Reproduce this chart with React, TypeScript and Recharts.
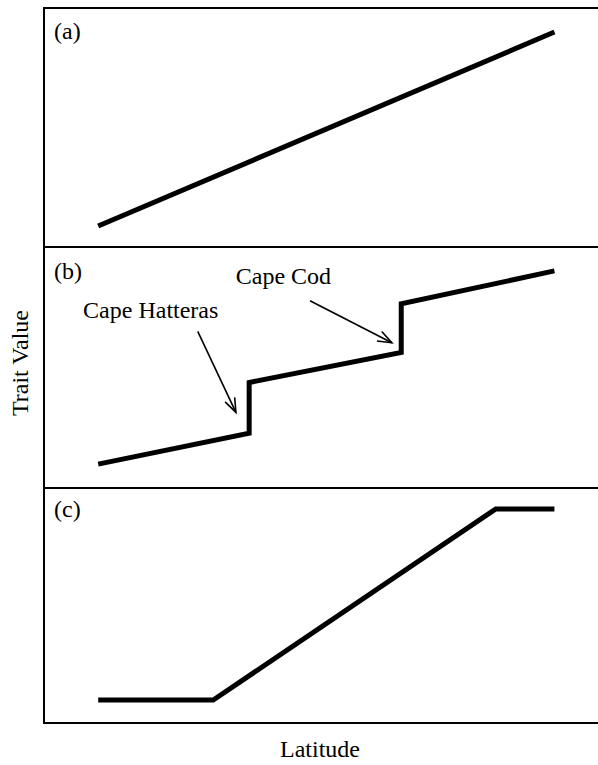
import React from 'react';
import { LineChart, Line, XAxis, YAxis, ReferenceLine, ReferenceDot } from 'recharts';

// latitude runs 0..100 across each panel, trait value 0..100 within each panel
const linearLat = [9.8, 92.3];
const linearTrait = [8.4, 89.9];

const stepLat = [9.8, 37.1, 37.1, 64.6, 64.6, 92.3];
const stepTrait = [9.9, 22.7, 43.8, 56.2, 76.4, 90.1];

const clineLat = [9.8, 30.6, 81.7, 92.3];
const clineTrait = [9.8, 9.8, 91.5, 91.5];

const breakNames = ['Cape Hatteras', 'Cape Cod'];
const breakTextLat = [19.3, 43.3];
const breakTextTrait = [70.5, 84.6];
const arrowFrom = [[27.8, 65.0], [48.1, 77.7]];
const arrowTo = [[34.7, 31.4], [62.9, 60.3]];

const panelLabels = ['(a)', '(b)', '(c)'];

const toRows = (xs: number[], ys: number[]) => xs.map((x, i) => ({ lat: x, trait: ys[i] }));

const SERIF = '"Liberation Serif", "DejaVu Serif", serif';
const FS = 24;
const W = 553;

const ArrowShape = (props: any) => {
  const { x1, y1, x2, y2 } = props;
  if (x1 == null) return null;
  const ang = Math.atan2(y2 - y1, x2 - x1);
  const len = 15;
  const spread = 0.36;
  const ax = x2 - len * Math.cos(ang - spread);
  const ay = y2 - len * Math.sin(ang - spread);
  const bx = x2 - len * Math.cos(ang + spread);
  const by = y2 - len * Math.sin(ang + spread);
  return (
    <g stroke="#000" strokeWidth={1.6} fill="none">
      <line x1={x1} y1={y1} x2={x2} y2={y2} />
      <polyline points={`${ax},${ay} ${x2},${y2} ${bx},${by}`} />
    </g>
  );
};

const Panel = ({ top, height, data, label, children }: any) => (
  <div style={{ position: 'absolute', left: 44, top, width: W, height }}>
    <LineChart width={W} height={height} data={data} margin={{ top: 0, right: 0, bottom: 0, left: 0 }}>
      <XAxis dataKey="lat" type="number" domain={[0, 100]} hide />
      <YAxis type="number" domain={[0, 100]} hide />
      <Line
        type="linear"
        dataKey="trait"
        stroke="#000"
        strokeWidth={5}
        strokeLinejoin="miter"
        dot={false}
        activeDot={false}
        isAnimationActive={false}
      />
      {children}
    </LineChart>
    <div style={{ position: 'absolute', left: 10, top: label.top, fontFamily: SERIF, fontSize: FS, lineHeight: 1, color: '#000' }}>
      {label.text}
    </div>
  </div>
);

export default function App() {
  return (
    <div style={{ position: 'absolute', left: 0, top: 0, width: 598, height: 765, background: '#fff', overflow: 'hidden' }}>
      <div style={{ position: 'absolute', left: 43, top: 7, width: 570, height: 713, border: '2px solid #000', borderRight: 'none' }} />
      <div style={{ position: 'absolute', left: 43, top: 246, width: 560, height: 2, background: '#000' }} />
      <div style={{ position: 'absolute', left: 43, top: 487, width: 560, height: 2, background: '#000' }} />

      <Panel top={8} height={238} data={toRows(linearLat, linearTrait)} label={{ text: panelLabels[0], top: 11 }} />

      <Panel top={247} height={241} data={toRows(stepLat, stepTrait)} label={{ text: panelLabels[1], top: 12 }}>
        {breakNames.map((name, i) => (
          <ReferenceLine
            key={name}
            segment={[
              { x: arrowFrom[i][0], y: arrowFrom[i][1] },
              { x: arrowTo[i][0], y: arrowTo[i][1] },
            ]}
            ifOverflow="visible"
            shape={ArrowShape}
          />
        ))}
        {breakNames.map((name, i) => (
          <ReferenceDot
            key={name + '-t'}
            x={breakTextLat[i]}
            y={breakTextTrait[i]}
            r={0}
            stroke="none"
            ifOverflow="visible"
            label={(p: any) => (
              <text
                x={p.viewBox.x}
                y={p.viewBox.y}
                textAnchor="middle"
                fontFamily={SERIF}
                fontSize={FS}
                fill="#000"
              >
                {name}
              </text>
            )}
          />
        ))}
      </Panel>

      <Panel top={489} height={234} data={toRows(clineLat, clineTrait)} label={{ text: panelLabels[2], top: 8 }} />

      <div
        style={{
          position: 'absolute',
          left: 20,
          top: 363,
          transform: 'translate(-50%, -50%) rotate(-90deg)',
          fontFamily: SERIF,
          fontSize: FS,
          whiteSpace: 'nowrap',
          lineHeight: 1,
          color: '#000',
        }}
      >
        Trait Value
      </div>
      <div
        style={{
          position: 'absolute',
          left: 320,
          top: 749,
          transform: 'translate(-50%, -50%)',
          fontFamily: SERIF,
          fontSize: FS,
          whiteSpace: 'nowrap',
          lineHeight: 1,
          color: '#000',
        }}
      >
        Latitude
      </div>
    </div>
  );
}
